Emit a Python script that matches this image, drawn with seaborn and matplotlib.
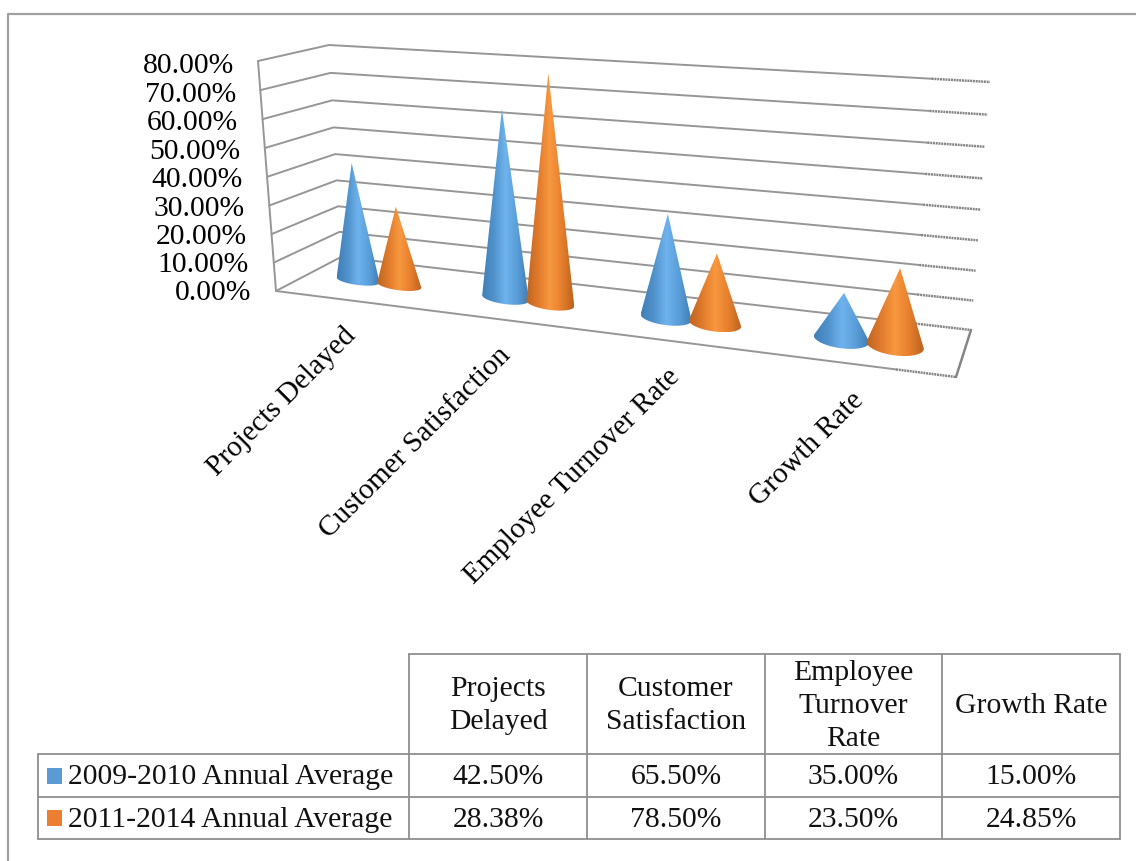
import numpy as np
import pandas as pd
import matplotlib
matplotlib.use("Agg")
import matplotlib.pyplot as plt
from matplotlib.colors import LinearSegmentedColormap
from matplotlib.patches import PathPatch, Rectangle
from matplotlib.path import Path
import seaborn as sns

# ---------- data ----------
categories = ["Projects Delayed", "Customer Satisfaction", "Employee Turnover Rate", "Growth Rate"]
table_headers = ["Projects\nDelayed", "Customer\nSatisfaction", "Employee\nTurnover\nRate", "Growth Rate"]
series_names = ["2009-2010 Annual Average", "2011-2014 Annual Average"]
values_2009 = [42.50, 65.50, 35.00, 15.00]
values_2011 = [28.38, 78.50, 23.50, 24.85]
y_ticks = [0, 10, 20, 30, 40, 50, 60, 70, 80]

# ---------- styles ----------
GRID = "#969696"
FONT = "Liberation Serif"
FS = 21
FS_T = 21.3
BLUE = "#5b9bd5"
ORANGE = "#ed7d31"
cmap_blue = LinearSegmentedColormap.from_list("b", ["#417fb6", "#5092cb", "#6fb3ee", "#5a9ed9", "#3f7cb2"])
cmap_orange = LinearSegmentedColormap.from_list("o", ["#bd6420", "#e07a2c", "#f8983f", "#e67f2d", "#bb621f"])

sns.set_theme(style="white")
plt.rcParams["font.family"] = [FONT, "DejaVu Serif"]

fig = plt.figure(figsize=(11.36, 8.61), dpi=100, facecolor="white")
ax = fig.add_axes([0, 0, 1, 1])
ax.set_xlim(0, 1136)
ax.set_ylim(861, 0)
ax.axis("off")

# ---------- perspective camera of the 3-D box (corners in image space) ----------
# index: (right?, top?, front?)
C = {
    (0, 0, 0): (341, 257), (1, 0, 0): (971, 330),
    (0, 1, 0): (329, 45),  (1, 1, 0): (990, 82),
    (0, 0, 1): (276, 291), (1, 0, 1): (956, 377),
    (0, 1, 1): (258, 61),  (1, 1, 1): (977, 108),
}
KX = 1.192
T_ROUGH = 0.925  # from here on the wall lines look rough in the source


def persp(w, k):
    return w / (w + k * (1 - w))


def P(t, val, d):
    """Category axis t (0..1), value axis val (%), depth d (0 back, 1 front)."""
    s = persp(t, KX)
    w = persp(val / 80.0, 1.06 - 0.045 * d)
    out = np.zeros(2)
    for (a, b, c), xy in C.items():
        out += (s if a else 1 - s) * (w if b else 1 - w) * (d if c else 1 - d) * np.array(xy, float)
    return out


# ---------- walls and gridlines ----------
rows = []
for v in y_ticks:
    for name, t, d in [("a", 0, 1), ("b", 0, 0), ("c", T_ROUGH, 0)]:
        x, y = P(t, v, d)
        rows.append({"level": v, "order": name, "px": x, "py": y})
grid_df = pd.DataFrame(rows)
sns.lineplot(data=grid_df, x="px", y="py", units="level", estimator=None, sort=False,
             color=GRID, lw=1.4, ax=ax, legend=False, zorder=1)

outline = pd.DataFrame([P(0, 80, 1), P(0, 0, 1), P(T_ROUGH, 0, 1)], columns=["px", "py"])
sns.lineplot(data=outline, x="px", y="py", estimator=None, sort=False,
             color=GRID, lw=1.4, ax=ax, legend=False, zorder=1)
ax.set_xlabel("")
ax.set_ylabel("")

# rough right-hand ends
for v in y_ticks:
    a, b = P(T_ROUGH, v, 0), P(1, v, 0)
    ax.plot([a[0], b[0]], [a[1], b[1]], color="#858585", lw=1.8, ls=(0, (0.8, 0.3)), zorder=1)
a, b = P(T_ROUGH, 0, 1), P(1, 0, 1)
ax.plot([a[0], b[0]], [a[1], b[1]], color="#858585", lw=1.8, ls=(0, (0.8, 0.3)), zorder=1)
a, b = P(1, 0, 1), P(1, 0, 0)
ax.plot([a[0], b[0]], [a[1], b[1]], color="#858585", lw=1.8, zorder=1)

# y tick labels
for v in y_ticks:
    x, y = P(0, v, 1)
    ax.text(x - 25 + v / 80, y + 2 + 3 * v / 80, f"{v:.2f}%", ha="right", va="center",
            fontsize=21.3, color="black", zorder=5)


# ---------- cones ----------
def cone(tc, value, cmap, hw_t=0.038):
    base = P(tc, 0, 0.5)
    apex = P(tc, value, 0.5)
    left = P(tc - hw_t, 0, 0.5)
    right = P(tc + hw_t, 0, 0.5)
    s = persp(tc, KX)
    hw = (right - left) / 2
    ry = np.hypot(*hw) * (0.22 + 0.15 * s)
    th = np.linspace(0, np.pi, 60)
    # lower half of the base ellipse, from right to left
    pts = np.array([base + hw * np.cos(a) + np.array([0, ry * np.sin(a)]) for a in th])
    verts = np.vstack([apex, pts, apex])
    codes = [Path.MOVETO] + [Path.LINETO] * (len(verts) - 2) + [Path.CLOSEPOLY]
    patch = PathPatch(Path(verts, codes), facecolor="none", edgecolor="none", transform=ax.transData)
    ax.add_patch(patch)
    x0, x1 = verts[:, 0].min(), verts[:, 0].max()
    y0, y1 = verts[:, 1].min(), verts[:, 1].max()
    grad = np.linspace(0, 1, 128)[None, :]
    im = ax.imshow(grad, cmap=cmap, extent=(x0, x1, y1, y0), aspect="auto", zorder=3, interpolation="bilinear")
    im.set_clip_path(patch)


for i in range(len(categories)):
    tc = (i + 0.5) / len(categories)
    cone(tc - 0.036, values_2009[i], cmap_blue)
    cone(tc + 0.036, values_2011[i], cmap_orange)
ax.set_xlim(0, 1136)
ax.set_ylim(861, 0)

# ---------- category labels ----------
for i, c in enumerate(categories):
    x, y = P((i + 0.5) / len(categories), 0, 1)
    ax.text(x + 3, y + 32, c, rotation=45, rotation_mode="anchor", ha="right", va="center",
            fontsize=FS, color="black", zorder=5)

# ---------- frame ----------
frame = pd.DataFrame({"px": [7.5, 7.5, 1136], "py": [861, 13.5, 13.5]})
sns.lineplot(data=frame, x="px", y="py", estimator=None, sort=False, color="#a0a0a0", lw=1.6, ax=ax, legend=False)
ax.set_xlabel("")
ax.set_ylabel("")

# ---------- data table ----------
col_x = [409, 587, 765, 942, 1120]
row_y = [653.5, 754, 797, 839]
left_x = 37.5
TC = "#8f8f8f"
for x in col_x:
    ax.plot([x, x], [row_y[0], row_y[-1]], color=TC, lw=1.3, zorder=2)
ax.plot([col_x[0], col_x[-1]], [row_y[0]] * 2, color=TC, lw=1.3, zorder=2)
for y in row_y[1:]:
    ax.plot([left_x, col_x[-1]], [y, y], color=TC, lw=1.3, zorder=2)
ax.plot([left_x, left_x], [row_y[1], row_y[-1]], color=TC, lw=1.3, zorder=2)

for j, h in enumerate(table_headers):
    ax.text((col_x[j] + col_x[j + 1]) / 2, (row_y[0] + row_y[1]) / 2 + 2, h, ha="center", va="center",
            fontsize=FS_T, linespacing=1.36, color="#111111")

for r, (name, vals, col) in enumerate(zip(series_names, [values_2009, values_2011], [BLUE, ORANGE])):
    yc = (row_y[r + 1] + row_y[r + 2]) / 2 + 2
    ax.add_patch(Rectangle((47, yc - 10), 15, 16, facecolor=col, edgecolor="none"))
    ax.text(68, yc, name, ha="left", va="center", fontsize=FS_T, color="#111111")
    for j, v in enumerate(vals):
        ax.text((col_x[j] + col_x[j + 1]) / 2, yc, f"{v:.2f}%", ha="center", va="center",
                fontsize=FS_T, color="#111111")

fig.savefig("out.png", dpi=100, facecolor="white")
